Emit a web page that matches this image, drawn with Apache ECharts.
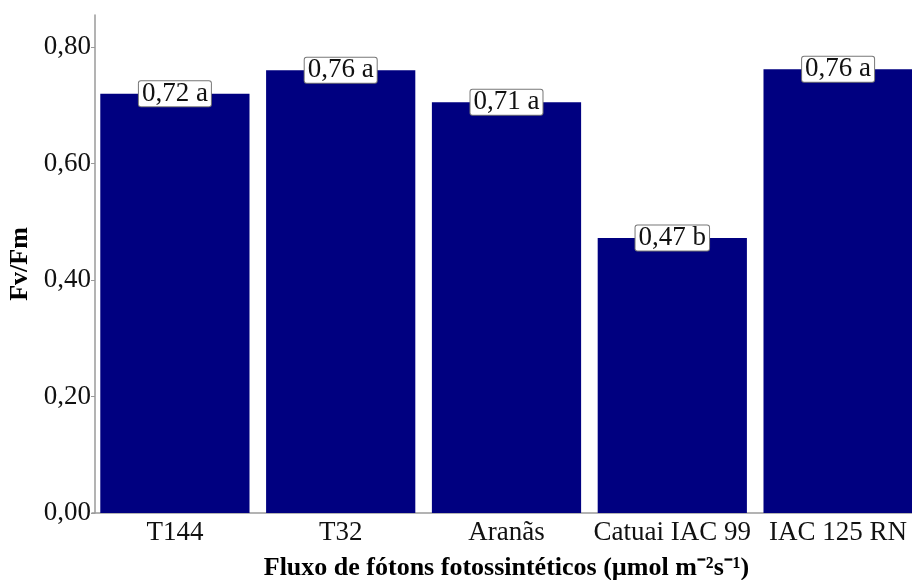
<!DOCTYPE html>
<html>
<head>
<meta charset="utf-8">
<script src="https://cdn.jsdelivr.net/npm/echarts@6/dist/echarts.min.js"></script>
<style>html,body{margin:0;padding:0;background:#fff}#c{width:912px;height:580px}</style>
</head>
<body>
<div id="c"></div>
<script>
var categories = ['T144', 'T32', 'Aranãs', 'Catuai IAC 99', 'IAC 125 RN'];
var values = [0.72, 0.76, 0.705, 0.472, 0.762];
var valueLabels = ['0,72', '0,76', '0,71', '0,47', '0,76'];
var letters = ['a', 'a', 'a', 'b', 'a'];
var yTicks = [0, 0.2, 0.4, 0.6, 0.8];
var yAxisTitle = 'Fv/Fm';
var xAxisTitle = 'Fluxo de fótons fotossintéticos (µmol m⁻²s⁻¹)';

var FONT = "'Liberation Serif', 'Times New Roman', serif";
var chart = echarts.init(document.getElementById('c'), null, {renderer: 'canvas'});
chart.setOption({
  animation: false,
  backgroundColor: '#fff',
  grid: {left: 92, width: 829, top: 15, height: 498, containLabel: false, outerBoundsMode: 'none'},
  xAxis: {
    type: 'category',
    data: categories,
    boundaryGap: true,
    axisLine: {lineStyle: {color: '#9a9a9a', width: 1.5}},
    axisTick: {alignWithLabel: true, length: 4, lineStyle: {color: '#9a9a9a', width: 1}},
    axisLabel: {color: '#111', fontFamily: FONT, fontSize: 27, margin: 6, interval: 0},
    name: xAxisTitle,
    nameLocation: 'middle',
    nameGap: 42,
    nameTextStyle: {color: '#000', fontFamily: FONT, fontSize: 26, fontWeight: 'bold'}
  },
  yAxis: {
    type: 'value',
    min: 0,
    max: 0.855,
    interval: 0.2,
    offset: -3,
    splitLine: {show: false},
    axisLine: {show: true, lineStyle: {color: '#9a9a9a', width: 1.5}},
    axisTick: {show: true, length: 4, lineStyle: {color: '#9a9a9a', width: 1}},
    axisLabel: {
      color: '#111', fontFamily: FONT, fontSize: 27, margin: 4, showMaxLabel: false,
      formatter: function (v) {
        for (var i = 0; i < yTicks.length; i++) {
          if (Math.abs(v - yTicks[i]) < 1e-6) return yTicks[i].toFixed(2).replace('.', ',');
        }
        return '';
      }
    },
    name: yAxisTitle,
    nameLocation: 'middle',
    nameGap: 62,
    nameTextStyle: {color: '#000', fontFamily: FONT, fontSize: 26, fontWeight: 'bold'}
  },
  series: [{
    type: 'bar',
    data: values,
    barWidth: '90%',
    itemStyle: {color: '#000080'},
    label: {
      show: true,
      position: ['50%', 0],
      align: 'center',
      verticalAlign: 'middle',
      fontFamily: FONT,
      fontSize: 27,
      lineHeight: 24,
      color: '#111',
      backgroundColor: '#fff',
      borderColor: '#777',
      borderWidth: 1,
      borderRadius: 2,
      padding: [1, 3, 0, 3],
      formatter: function (p) { return valueLabels[p.dataIndex] + ' ' + letters[p.dataIndex]; }
    }
  }]
});
</script>
</body>
</html>
